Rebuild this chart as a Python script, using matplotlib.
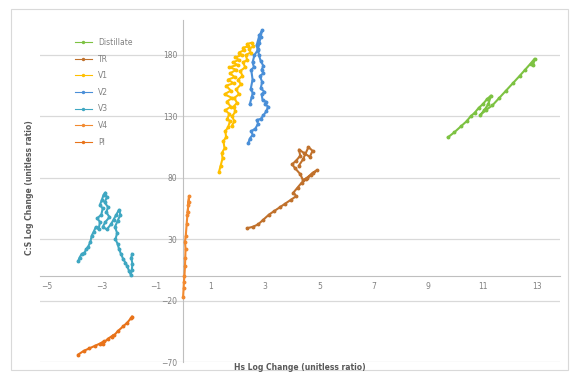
import matplotlib
matplotlib.use("Agg")
import matplotlib.pyplot as plt
from matplotlib.patches import Rectangle

# series data (Hs log change, C:S log change)
distillate_x = [9.72, 9.95, 10.20, 10.40, 10.55, 10.70, 10.85, 11.00, 11.15, 11.30, 11.20, 11.05, 10.90,
                11.10, 11.35, 11.60, 11.85, 12.10, 12.35, 12.55, 12.75, 12.90, 12.85]
distillate_y = [113, 117, 122, 126, 130, 133, 137, 140, 144, 147, 140, 135, 131,
                135, 139, 145, 151, 157, 163, 168, 173, 177, 172]

tr_x = [2.35, 2.55, 2.75, 2.95, 3.15, 3.35, 3.55, 3.75, 3.95, 4.15, 4.05, 4.20, 4.35, 4.50, 4.70, 4.90,
        4.75, 4.55, 4.40, 4.30, 4.10, 4.00, 4.15, 4.30, 4.25, 4.45, 4.65, 4.75, 4.60, 4.40, 4.25]
tr_y = [39, 40, 42, 46, 50, 53, 56, 59, 62, 65, 68, 72, 76, 79, 82, 86,
        84, 80, 78, 83, 88, 91, 94, 98, 103, 100, 97, 102, 105, 95, 90]

v1_x = [1.32, 1.38, 1.45, 1.42, 1.52, 1.48, 1.58, 1.55, 1.65, 1.72, 1.62, 1.70, 1.55, 1.75, 1.60, 1.80,
        1.52, 1.75, 1.58, 1.85, 1.65, 1.90, 1.72, 1.95, 1.70, 2.00, 1.82, 2.05, 1.92, 2.15, 2.05, 2.25,
        2.20, 2.40, 2.35, 2.52, 2.58, 2.42, 2.48, 2.30, 2.35, 2.20, 2.28, 2.10, 2.18, 2.02, 2.12, 1.95,
        2.05, 1.88, 1.98, 1.85, 1.92, 1.80, 1.88, 1.78]
v1_y = [85, 90, 96, 100, 104, 110, 113, 118, 121, 126, 128, 132, 135, 138, 142, 145,
        148, 151, 155, 157, 160, 162, 165, 168, 170, 172, 174, 176, 178, 180, 182, 184,
        186, 187, 189, 190, 187, 185, 182, 180, 176, 174, 170, 167, 163, 160, 156, 152,
        148, 145, 141, 138, 134, 130, 126, 122]

v2_x = [2.39, 2.45, 2.55, 2.50, 2.65, 2.75, 2.70, 2.85, 2.95, 3.05, 3.12, 3.00, 3.05, 2.92, 2.88, 2.98,
        2.85, 2.90, 2.82, 2.95, 2.88, 2.95, 2.85, 2.78, 2.75, 2.80, 2.85, 2.90, 2.80, 2.70, 2.74, 2.62,
        2.55, 2.60, 2.50, 2.55, 2.48, 2.56, 2.52, 2.45]
v2_y = [108, 112, 115, 118, 120, 124, 127, 128, 131, 134, 138, 140, 142, 143, 148, 150,
        153, 158, 163, 165, 168, 171, 175, 180, 185, 190, 195, 200, 196, 188, 184, 180,
        174, 170, 168, 160, 152, 149, 146, 140]

v3_x = [-3.85, -3.80, -3.72, -3.62, -3.55, -3.48, -3.40, -3.35, -3.28, -3.20, -3.10, -3.05, -3.15, -3.00,
        -2.95, -3.05, -2.98, -2.92, -2.85, -2.80, -2.88, -2.75, -2.82, -2.70, -2.85, -2.95, -2.80, -2.65,
        -2.55, -2.45, -2.35, -2.30, -2.40, -2.50, -2.42, -2.48, -2.40, -2.35, -2.28, -2.20, -2.12, -2.05,
        -1.98, -1.92, -1.88, -1.86, -1.90, -1.87]
v3_y = [12, 15, 18, 19, 22, 24, 28, 33, 36, 40, 38, 44, 47, 50,
        55, 58, 62, 66, 68, 64, 60, 56, 52, 48, 44, 40, 38, 42,
        46, 50, 54, 50, 45, 40, 35, 30, 26, 22, 18, 14, 11, 8,
        4, 1, 5, 10, 15, 18]

v4_x = [0.00, 0.02, 0.03, 0.05, 0.07, 0.08, 0.09, 0.07, 0.10, 0.13, 0.16, 0.19, 0.22, 0.20, 0.17]
v4_y = [-17, -10, -5, 0, 8, 15, 22, 28, 33, 42, 50, 58, 65, 60, 52]

pl_x = [-3.85, -3.65, -3.45, -3.25, -3.05, -2.90, -2.95, -2.75, -2.55, -2.60, -2.40, -2.20, -2.05, -1.90, -1.87]
pl_y = [-64, -61, -59, -57, -55, -53, -55, -51, -48, -50, -45, -41, -38, -34, -33]

names = ["Distillate", "TR", "V1", "V2", "V3", "V4", "Pl"]
colors = ["#7DC242", "#C0712C", "#FFC000", "#4A8FD8", "#3FA7C2", "#F28A30", "#E8731A"]
series = [(distillate_x, distillate_y), (tr_x, tr_y), (v1_x, v1_y), (v2_x, v2_y),
          (v3_x, v3_y), (v4_x, v4_y), (pl_x, pl_y)]

x_ticks = [-5, -3, -1, 1, 3, 5, 7, 9, 11, 13]
y_ticks = [-70, -20, 30, 80, 130, 180]

W, H = 574, 382
fig = plt.figure(figsize=(W / 100, H / 100), dpi=100)
fig.patches.append(Rectangle((11 / W, 1 - 370 / H), 557 / W, 361 / H, transform=fig.transFigure,
                             fill=False, edgecolor="#D9D9D9", linewidth=0.8))

ax = fig.add_axes([40 / W, 1 - 362 / H, 520 / W, 342 / H])
for (xs, ys), name, c in zip(series, names, colors):
    ax.plot(xs, ys, color=c, linewidth=1.5, marker="o", markersize=1.8, label=name, zorder=3)

ax.set_xlim(-5.25, 13.83)
ax.set_ylim(-70, 208.5)
ax.set_xticks(x_ticks)
ax.set_yticks(y_ticks)
ax.grid(axis="y", color="#D9D9D9", linewidth=0.9)
ax.set_axisbelow(True)

for s in ["top", "right"]:
    ax.spines[s].set_visible(False)
ax.spines["left"].set_position(("data", 0))
ax.spines["bottom"].set_position(("data", 0))
ax.spines["left"].set_color("#BFBFBF")
ax.spines["bottom"].set_color("#BFBFBF")
ax.tick_params(length=0, labelsize=5.5, labelcolor="#808080", pad=4)

fig.text(300 / W, 1 - 368 / H, "Hs Log Change (unitless ratio)", ha="center", va="center",
         fontsize=5.5, fontweight="bold", color="#595959")
fig.text(30 / W, 1 - 188 / H, "C:S Log Change (unitless ratio)", ha="center", va="center",
         rotation=90, fontsize=5.5, fontweight="bold", color="#595959")

leg = ax.legend(loc="upper left", bbox_to_anchor=(28 / 520, 1 - 11 / 342), frameon=False,
                fontsize=5.5, labelspacing=1.0, handlelength=2.2, markerscale=0.8)
for t in leg.get_texts():
    t.set_color("#808080")
for h in leg.get_lines():
    h.set_linewidth(0.8)

fig.savefig("out.png", dpi=100)
